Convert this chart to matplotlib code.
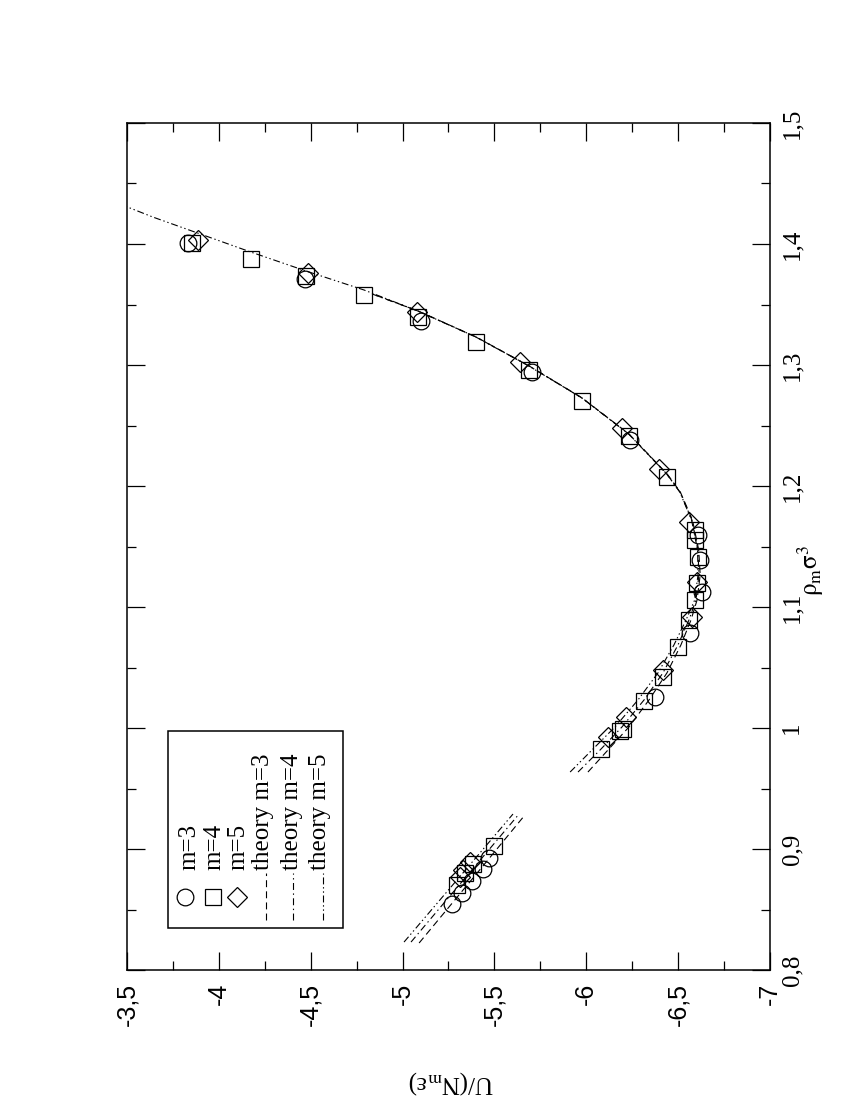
import matplotlib
matplotlib.use("Agg")
import matplotlib.pyplot as plt
from matplotlib.ticker import MultipleLocator, FuncFormatter
from matplotlib.patches import Rectangle
from matplotlib.lines import Line2D

plt.rcParams['lines.scale_dashes'] = False
plt.rcParams['mathtext.fontset'] = 'stix'

# ---------------- data ----------------
# simulation, m=3 (circles)
u_m3 = [-5.269, -5.323, -5.378, -5.438, -5.470,
        -6.374, -6.564, -6.630, -6.619, -6.608, -6.238, -5.704, -5.100, -4.469, -3.832]
rho_m3 = [0.8545, 0.8636, 0.8735, 0.8834, 0.8925,
          1.0256, 1.0784, 1.1122, 1.1387, 1.1593, 1.2378, 1.2940, 1.3361, 1.3708, 1.4005]

# simulation, m=4 (squares)
u_m4 = [-5.296, -5.340, -5.383, -5.498,
        -6.080, -6.183, -6.200, -6.314, -6.417, -6.499, -6.559, -6.592, -6.603, -6.608,
        -6.592, -6.592, -6.439, -6.232, -5.977, -5.688, -5.400, -5.084, -4.790, -4.474,
        -4.175, -3.854]
rho_m4 = [0.8702, 0.8801, 0.8876, 0.9024,
          0.9826, 0.9974, 0.9991, 1.0222, 1.0420, 1.0668, 1.0891, 1.1057, 1.1197, 1.1412,
          1.1553, 1.1636, 1.2073, 1.2412, 1.2701, 1.2958, 1.3190, 1.3397, 1.3579, 1.3736,
          1.3876, 1.4008]

# simulation, m=5 (diamonds)
u_m5 = [-5.313, -5.329, -5.367,
        -6.118, -6.216, -6.417, -6.575, -6.603, -6.559, -6.396, -6.194, -5.639, -5.078,
        -4.485, -3.886]
rho_m5 = [0.8769, 0.8826, 0.8893,
          0.9925, 1.0090, 1.0478, 1.0916, 1.1205, 1.1701, 1.2139, 1.2477, 1.3023, 1.3436,
          1.3759, 1.4031]

# theory curves, upper (liquid) branch
rho_th3 = [0.9636, 0.9818, 1.0008, 1.0231, 1.0455, 1.0686, 1.0893, 1.1058, 1.1264,
           1.1471, 1.1719, 1.1950, 1.2098, 1.2429, 1.2727, 1.2992, 1.3231, 1.3446, 1.3587]
u_th3 = [-6.009, -6.118, -6.232, -6.341, -6.439, -6.515, -6.570, -6.603, -6.620,
         -6.612, -6.578, -6.512, -6.441, -6.233, -5.978, -5.689, -5.401, -5.085, -4.835]
rho_th4 = [0.9636, 0.9818, 1.0008, 1.0231, 1.0455, 1.0686, 1.0893, 1.1058, 1.1264,
           1.1471, 1.1719, 1.1950, 1.2098, 1.2429, 1.2727, 1.2992, 1.3231, 1.3446, 1.3587]
u_th4 = [-5.955, -6.075, -6.194, -6.314, -6.417, -6.499, -6.559, -6.597, -6.613,
         -6.608, -6.575, -6.510, -6.439, -6.232, -5.977, -5.688, -5.400, -5.084, -4.834]
rho_th5 = [0.9636, 0.9818, 1.0008, 1.0231, 1.0455, 1.0686, 1.0893, 1.1058, 1.1264,
           1.1471, 1.1719, 1.1950, 1.2098, 1.2429, 1.2727, 1.2992, 1.3231, 1.3446,
           1.3620, 1.3777, 1.3933, 1.4222, 1.4330]
u_th5 = [-5.912, -6.031, -6.156, -6.281, -6.390, -6.477, -6.543, -6.590, -6.608,
         -6.606, -6.573, -6.509, -6.438, -6.231, -5.976, -5.687, -5.399, -5.083,
         -4.790, -4.474, -4.175, -3.642, -3.462]

# theory curves, lower branch
rho_lo3 = [0.8223, 0.8750, 0.9281]
u_lo3 = [-5.090, -5.378, -5.666]
rho_lo4 = [0.8231, 0.8760, 0.9289]
u_lo4 = [-5.046, -5.340, -5.634]
rho_lo5 = [0.8231, 0.8760, 0.9289]
u_lo5 = [-5.008, -5.305, -5.601]

legend_labels = ["m=3", "m=4", "m=5", "theory m=3", "theory m=4", "theory m=5"]

# ---------------- figure ----------------
fig = plt.figure(figsize=(8.5, 11), dpi=100)
ax = fig.add_axes([127/850, 1-970/1100, 643/850, 847/1100])

ls3 = (0, (5, 3))
ls4 = (0, (5, 2.5, 1, 2.5))
ls5 = (0, (5, 2, 1, 2, 1, 2))
lw = 0.8

ax.plot(u_th3, rho_th3, color='k', lw=lw, ls=ls3)
ax.plot(u_th4, rho_th4, color='k', lw=lw, ls=ls4)
ax.plot(u_th5, rho_th5, color='k', lw=lw, ls=ls5)
ax.plot(u_lo3, rho_lo3, color='k', lw=lw, ls=ls3)
ax.plot(u_lo4, rho_lo4, color='k', lw=lw, ls=ls4)
ax.plot(u_lo5, rho_lo5, color='k', lw=lw, ls=ls5)

mk = dict(ls='none', mfc='none', mec='k', mew=0.9)
ax.plot(u_m3, rho_m3, marker='o', ms=12, **mk)
ax.plot(u_m4, rho_m4, marker='s', ms=11, **mk)
ax.plot(u_m5, rho_m5, marker='D', ms=10, **mk)

ax.set_xlim(-3.5, -7)
ax.set_ylim(0.8, 1.5)

ax.xaxis.set_major_locator(MultipleLocator(0.5))
ax.xaxis.set_minor_locator(MultipleLocator(0.25))
ax.yaxis.set_major_locator(MultipleLocator(0.1))
ax.yaxis.set_minor_locator(MultipleLocator(0.05))

fmt = FuncFormatter(lambda v, p: ("%g" % round(v, 3)).replace('.', ','))
ax.xaxis.set_major_formatter(fmt)
ax.yaxis.set_major_formatter(fmt)

ax.yaxis.tick_right()
ax.tick_params(which='both', direction='in', top=True, bottom=True, left=True, right=True,
               width=0.9, colors='k')
ax.tick_params(which='major', length=13)
ax.tick_params(which='minor', length=6.5)
ax.tick_params(axis='x', labelrotation=90, pad=9, labelsize=18)
ax.tick_params(axis='y', labelrotation=90, pad=8, labelsize=18)
for t in ax.get_xticklabels():
    t.set_fontfamily('Liberation Sans')
    t.set_va('top')
for t in ax.get_yticklabels():
    t.set_fontfamily('Liberation Serif')
    t.set_va('center')
for s in ax.spines.values():
    s.set_linewidth(1.1)

fig.text(451/850, 1-1082/1100, r"U/(N$_{\mathrm{m}}$ε)", rotation=180,
         ha='center', va='center', fontsize=18, family='Liberation Serif')
fig.text(811/850, 1-570/1100, r"$\mathrm{\rho}_{\mathrm{m}}\mathrm{\sigma}^{3}$", rotation=90,
         ha='center', va='center', fontsize=18)

# ---------------- legend (rotated, drawn by hand) ----------------
def ax_x(px):
    return (px - 127) / 643

def ax_y(py):
    return (970 - py) / 847

ax.add_patch(Rectangle((ax_x(168), ax_y(928)), ax_x(343) - ax_x(168), ax_y(731) - ax_y(928),
                       transform=ax.transAxes, fill=False, ec='k', lw=1.1, zorder=5))
sym_x = [185, 213, 237]
markers = [('o', 12), ('s', 11), ('D', 10)]
for px, (m, s) in zip(sym_x, markers):
    ax.add_line(Line2D([ax_x(px)], [ax_y(897)], marker=m, ms=s, transform=ax.transAxes,
                       mfc='none', mec='k', mew=0.9, ls='none'))
line_x = [266, 293, 323]
for px, st in zip(line_x, [ls3, ls4, ls5]):
    ax.add_line(Line2D([ax_x(px), ax_x(px)], [ax_y(920), ax_y(873)], transform=ax.transAxes,
                       color='k', lw=lw, ls=st))
text_x = [189, 214, 238, 263, 292, 320]
for px, lab in zip(text_x, legend_labels):
    ax.text(ax_x(px), ax_y(870), lab, rotation=90, ha='center', va='bottom',
            transform=ax.transAxes, fontsize=18, family='Liberation Serif')

fig.savefig("out.png", dpi=100)
